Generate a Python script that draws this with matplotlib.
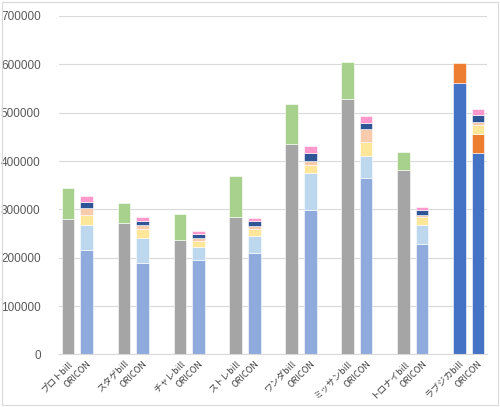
import numpy as np
import matplotlib.pyplot as plt
from matplotlib.patches import Rectangle

# data
groups = ['プロト', 'スタゲ', 'チャレ', 'ストレ', 'ワンダ', 'ミッサン', 'トロナイ', 'ラブジカ']

bill_main = [280000, 272000, 237000, 285000, 435000, 528000, 381000, 561000]
bill_add = [65000, 42000, 53000, 84000, 82000, 76000, 37000, 42000]

oricon_s1 = [216000, 189000, 195000, 210000, 298000, 366000, 228000, 417000]
oricon_s2 = [51500, 52000, 27000, 35000, 77000, 45000, 39500, 38000]
oricon_s3 = [20500, 18000, 12500, 14000, 16000, 28000, 16000, 19000]
oricon_s4 = [14000, 8500, 6500, 6000, 10000, 27000, 5500, 6000]
oricon_s5 = [13000, 8500, 8000, 11000, 16000, 12000, 9500, 15000]
oricon_s6 = [13000, 7500, 5500, 6000, 15000, 16000, 6500, 12000]

# colours (last group drawn in blue/orange)
bill_cols = [('#A5A5A5', '#A9D18E')] * 7 + [('#4472C4', '#ED7D31')]
oricon_cols = [('#8FAADC', '#BDD7EE')] * 7 + [('#4472C4', '#ED7D31')]
oricon_top_cols = ['#FFE699', '#F8CBAD', '#2F5597', '#FF99CC']

fig = plt.figure(figsize=(5.0, 4.07), dpi=100)
ax = fig.add_axes([0.1174, 0.129, 0.8572, 0.8317])
fig.patches.append(Rectangle((0.004, 0.006), 0.992, 0.988, transform=fig.transFigure,
                             fill=False, edgecolor='#D9D9D9', lw=0.8))

w = 0.67
xb = np.arange(len(groups)) * 3
xo = xb + 1

for i in range(len(groups)):
    c1, c2 = bill_cols[i]
    ax.bar(xb[i], bill_main[i], w, color=c1, edgecolor='white', lw=0.4, zorder=2)
    ax.bar(xb[i], bill_add[i], w, bottom=bill_main[i], color=c2, edgecolor='white', lw=0.4, zorder=2)

    segs = [oricon_s1[i], oricon_s2[i], oricon_s3[i], oricon_s4[i], oricon_s5[i], oricon_s6[i]]
    cols = list(oricon_cols[i]) + oricon_top_cols
    bot = 0
    for v, c in zip(segs, cols):
        ax.bar(xo[i], v, w, bottom=bot, color=c, edgecolor='white', lw=0.4, zorder=2)
        bot += v

ax.set_xlim(-0.5, 22.5)
ax.set_ylim(0, 700000)
ax.set_yticks(np.arange(0, 700001, 100000))
ax.yaxis.grid(True, color='#D9D9D9', lw=0.8, zorder=0)
ax.set_axisbelow(True)
for s in ['top', 'right', 'left']:
    ax.spines[s].set_visible(False)
ax.spines['bottom'].set_color('#D9D9D9')
ax.tick_params(axis='y', length=0, pad=13, labelsize=8.5, labelcolor='#595959')
for t in ax.get_yticklabels():
    t.set_family('Liberation Sans')

ticks = []
labels = []
for i, g in enumerate(groups):
    ticks += [xb[i], xo[i]]
    labels += [g + 'bill', 'ORICON']
ax.set_xticks(ticks)
ax.set_xticklabels(labels, rotation=45, ha='right', rotation_mode='anchor',
                   fontsize=6.5, color='#404040', family=['Noto Sans CJK JP', 'DejaVu Sans'])
ax.tick_params(axis='x', length=0, pad=3)

fig.savefig('out.png', dpi=100)
